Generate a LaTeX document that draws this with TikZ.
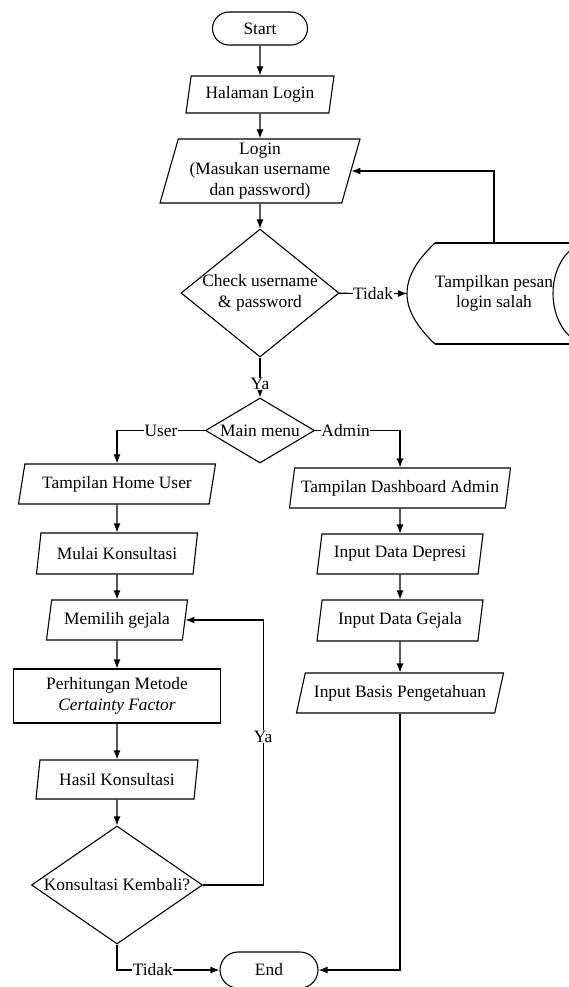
\documentclass[tikz,border=0pt]{standalone}
\usepackage{fontspec}
\setmainfont{Liberation Serif}
\usetikzlibrary{shapes.geometric,shapes.misc,arrows.meta}

\begin{document}
\begin{tikzpicture}[%
        x=1pt, y=-1pt,
        >={Latex[length=9pt,width=7pt]},
        line width=1.1pt,
        every node/.style={font=\fontsize{17.4}{20.5}\selectfont},
        terminal/.style={rounded rectangle, draw=black, minimum width=95, minimum height=33, inner sep=0pt},
        io/.style={trapezium, trapezium left angle=72, trapezium right angle=108, trapezium stretches body, draw=black, align=center, inner sep=0pt, minimum height=40},
        process/.style={rectangle, draw=black, align=center, minimum width=207, minimum height=54, inner sep=0pt},
        decision/.style={diamond, draw=black, inner sep=0pt},
        plain/.style={align=center, inner sep=0pt, outer sep=0pt},
        lbl/.style={fill=white, inner sep=0.5pt}]
        \useasboundingbox (0,0) rectangle (569,987);
        \clip (0,0) rectangle (569,987);

        % Nodes
        \node [terminal] (start) at (260,28.5) {Start};
        \node [io, minimum width=148, minimum height=37] (halaman) at (260,94.5) {Halaman Login};
        \node [io, minimum width=200, minimum height=64] (login) at (260,171) {Login\\(Masukan username\\dan password)};
        \node [decision, minimum width=158, minimum height=128] (cek) at (260,293)
            {\makebox[0pt]{\begin{tabular}{@{}c@{}}Check username\\ \& password\end{tabular}}};
        \node [plain, minimum width=174, minimum height=101] (pesan) at (494,293.5) {Tampilkan pesan\\login salah};
        \node [decision, minimum width=109, minimum height=65] (menu) at (260,430.5) {\makebox[0pt]{Main menu}};

        \node [io, minimum width=197, trapezium left angle=68, trapezium right angle=112] (home) at (117,484) {Tampilan Home User};
        \node [io, minimum width=161, minimum height=41, trapezium left angle=70, trapezium right angle=110] (mulai) at (117,553.5) {Mulai Konsultasi};
        \node [io, minimum width=141] (gejala) at (117,620) {Memilih gejala};
        \node [process] (hitung) at (117,696) {Perhitungan Metode\\\textit{Certainty Factor}};
        \node [io, minimum width=162, minimum height=39] (hasil) at (117,779.5) {Hasil Konsultasi};
        \node [decision, minimum width=171, minimum height=118] (ulang) at (117,885) {\makebox[0pt]{Konsultasi Kembali?}};

        \node [io, minimum width=221] (dashboard) at (400,488) {Tampilan Dashboard Admin};
        \node [io, minimum width=166] (depresi) at (400,554) {Input Data Depresi};
        \node [io, minimum width=166, minimum height=41] (datagejala) at (400,620.5) {Input Data Gejala};
        \node [io, minimum width=207, trapezium left angle=61, trapezium right angle=119] (basis) at (400,693) {\makebox[0pt]{Input Basis Pengetahuan}};

        \node [terminal, minimum width=98, minimum height=36] (end) at (269,970) {End};

        % Display shape
        \draw (435,243) -- (600,243) (435,344) -- (600,344);
        \draw (435,243) .. controls (415,262) and (407,278) .. (407,293.5) .. controls (407,309) and (415,325) .. (435,344);
        \draw (590,293.5) ellipse [x radius=37, y radius=51];

        % Edges
        \draw[->] (start) -- (halaman);
        \draw[->] (halaman) -- (login);
        \draw[->] (login) -- (cek);
        \draw[->] (cek) -- node[lbl] {Tidak} (pesan.west);
        \draw[->] (pesan.north) |- (login);
        \draw[->] (cek) -- node[lbl, pos=0.66] {Ya} (menu);
        \draw[->] (menu) -| node[lbl, pos=0.25] {User} (home);
        \draw[->] (menu) -| node[lbl, pos=0.18] {Admin} (dashboard);
        \draw[->] (home) -- (mulai);
        \draw[->] (mulai) -- (gejala);
        \draw[->] (gejala) -- (hitung);
        \draw[->] (hitung) -- (hasil);
        \draw[->] (hasil) -- (ulang);
        \draw[->] (ulang.east) -- ++(60,0) |- node[lbl, pos=0.28] {Ya} (gejala);
        \draw[->] (ulang) |- node[lbl, pos=0.675] {Tidak} (end);
        \draw[->] (dashboard) -- (depresi);
        \draw[->] (depresi) -- (datagejala);
        \draw[->] (datagejala) -- (basis);
        \draw[->] (basis) |- (end);
    \end{tikzpicture}
\end{document}
